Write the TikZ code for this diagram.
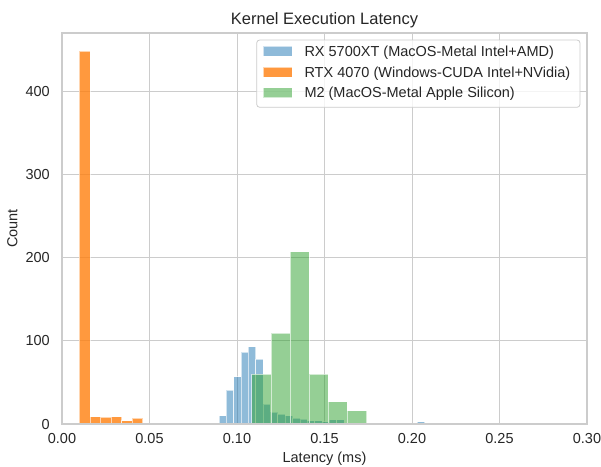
\documentclass[tikz,border=0pt]{standalone}
\usepackage{fontspec}
\setmainfont{Liberation Sans}
\definecolor{tabblue}{HTML}{1F77B4}
\definecolor{taborange}{HTML}{FF7F0E}
\definecolor{tabgreen}{HTML}{2CA02C}
\definecolor{gridgray}{HTML}{CCCCCC}
\definecolor{txtgray}{HTML}{262626}
\begin{document}
\begin{tikzpicture}[x=1pt,y=-1pt,
  gridline/.style={draw=gridgray, line width=1pt},
  axframe/.style={draw=gridgray, line width=1.2pt},
  barbase/.style={draw=white, line width=0.7pt, draw opacity=0.6},
  bluebar/.style={barbase, fill=tabblue, fill opacity=0.5},
  orangebar/.style={barbase, fill=taborange, fill opacity=0.8},
  greenbar/.style={barbase, fill=tabgreen, fill opacity=0.5},
  lbl/.style={text=txtgray, inner sep=0pt, font=\fontsize{14.5}{17}\selectfont},
  ttl/.style={text=txtgray, inner sep=0pt, font=\fontsize{16.5}{20}\selectfont},
  legbox/.style={draw=gridgray, fill=white, fill opacity=0.8, line width=0.8pt, rounded corners=3pt},
]
\useasboundingbox (0,0) rectangle (601,466);
% grid
\foreach \i in {1,...,5} \draw[gridline] ({62+87.5*\i},33) -- ({62+87.5*\i},424);
\foreach \i in {1,...,4} \draw[gridline] (62,{424-83.25*\i}) -- (587,{424-83.25*\i});
% blue bars
\foreach \k/\c in {0/10,1/41,2/57,3/86,4/93,5/78,6/24,7/14,8/12,9/10,10/7,11/6,12/4,13/4,14/3,15/5,16/5,17/1,18/1,19/1,20/1,25/1,27/3,30/1,31/1,36/1}
  \draw[bluebar] ({219+7.35*\k},424) rectangle ({219+7.35*(\k+1)},{424-\c*0.8325});
% orange bars
\foreach \k/\c in {0/448,1/9,2/8,3/9,4/4,5/7}
  \draw[orangebar] ({79.3+10.57*\k},424) rectangle ({79.3+10.57*(\k+1)},{424-\c*0.8325});
% green bars
\foreach \k/\c in {0/60,1/109,2/207,3/60,4/27,5/16}
  \draw[greenbar] ({251.7+19.15*\k},424) rectangle ({251.7+19.15*(\k+1)},{424-\c*0.8325});
% frame
\draw[axframe] (62,33) rectangle (587,424);
% ticks
\foreach \i/\t in {0/0.00,1/0.05,2/0.10,3/0.15,4/0.20,5/0.25,6/0.30}
  \node[lbl, anchor=base] (xt\i) at ({62+87.5*\i},443.5) {\t};
\foreach \i/\t in {0/0,1/100,2/200,3/300,4/400}
  \node[lbl, anchor=base east] (yt\i) at (50,{424-83.25*\i+5.2}) {\t};
\node[lbl, anchor=base] (xlabel) at (324.5,462) {Latency (ms)};
\node[lbl, anchor=base, rotate=90] (ylabel) at (17.3,228.5) {Count};
\node[ttl, anchor=base] (title) at (324.5,24) {Kernel Execution Latency};
% legend
\draw[legbox] (256.7,40) rectangle (580,107.3);
\draw[bluebar] (263.3,46.3) rectangle (292.3,56.3);
\draw[orangebar] (263.3,67) rectangle (292.3,77);
\draw[greenbar] (263.3,87.7) rectangle (292.3,97.7);
\node[lbl, anchor=base west] (l1) at (304.3,56.5) {RX 5700XT (MacOS-Metal Intel+AMD)};
\node[lbl, anchor=base west] (l2) at (304.3,77.2) {RTX 4070 (Windows-CUDA Intel+NVidia)};
\node[lbl, anchor=base west] (l3) at (304.3,97.9) {M2 (MacOS-Metal Apple Silicon)};
\end{tikzpicture}
\end{document}
